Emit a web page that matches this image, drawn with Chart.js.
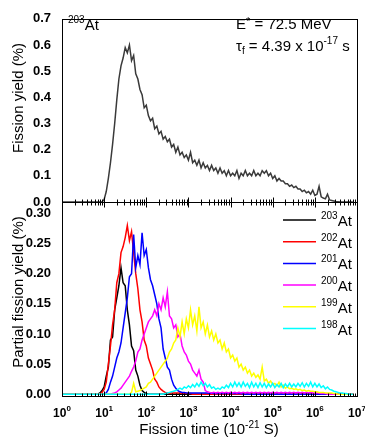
<!DOCTYPE html>
<html>
<head>
<meta charset="utf-8">
<script src="https://cdn.jsdelivr.net/npm/chart.js@4.4.1/dist/chart.umd.min.js"></script>
<style>
  html, body { margin: 0; padding: 0; background: #fff; }
  #wrap { position: relative; width: 365px; height: 444px; }
  #wrap canvas { position: absolute; left: 0; top: 0; }
</style>
</head>
<body>
<div id="wrap">
  <canvas id="topChart" width="365" height="444"></canvas>
  <canvas id="bottomChart" width="365" height="444"></canvas>
</div>
<script>
// log10 of fission time, time in units of 1e-21 s
const logTime = [0,
  0.80,0.85,0.90,0.95,1.00,1.05,1.10,1.15,1.20,1.25,1.30,1.35,1.40,1.45,1.50,1.55,1.60,1.65,1.70,1.75,
  1.80,1.85,1.90,1.95,2.00,2.05,2.10,2.15,2.20,2.25,2.30,2.35,2.40,2.45,2.50,2.55,2.60,2.65,2.70,2.75,
  2.80,2.85,2.90,2.95,3.00,3.05,3.10,3.15,3.20,3.25,3.30,3.35,3.40,3.45,3.50,3.55,3.60,3.65,3.70,3.75,
  3.80,3.85,3.90,3.95,4.00,4.05,4.10,4.15,4.20,4.25,4.30,4.35,4.40,4.45,4.50,4.55,4.60,4.65,4.70,4.75,
  4.80,4.85,4.90,4.95,5.00,5.05,5.10,5.15,5.20,5.25,5.30,5.35,5.40,5.45,5.50,5.55,5.60,5.65,5.70,5.75,
  5.80,5.85,5.90,5.95,6.00,6.05,6.10,6.15,6.20,6.25,6.30,6.35,6.40,6.45,6.50,6.55,6.60,6.65,6.70,6.75,
  6.80,6.85,6.90];

// total fission yield (%) of 203At
const totalYield = [0,
  0,0,0,0,0.01,0.04,0.09,0.15,0.22,0.30,0.39,0.47,0.52,0.55,0.59,0.57,0.60,0.54,0.56,0.49,
  0.47,0.43,0.41,0.36,0.37,0.33,0.31,0.32,0.28,0.29,0.26,0.27,0.24,0.25,0.23,0.24,0.21,0.22,0.19,0.21,
  0.18,0.19,0.17,0.18,0.16,0.19,0.15,0.16,0.14,0.16,0.13,0.15,0.13,0.14,0.12,0.14,0.12,0.13,0.11,0.13,
  0.11,0.12,0.10,0.12,0.10,0.11,0.10,0.12,0.09,0.11,0.10,0.12,0.10,0.11,0.10,0.12,0.10,0.11,0.10,0.12,
  0.11,0.12,0.10,0.11,0.09,0.10,0.08,0.09,0.08,0.08,0.07,0.07,0.06,0.065,0.055,0.06,0.05,0.05,0.04,0.045,
  0.035,0.04,0.03,0.045,0.025,0.03,0.06,0.02,0.015,0.012,0.03,0.008,0.006,0.004,0.002,0.001,0,0,0,0,
  0,0,0];

// partial fission yields (%)
const at203 = [0,
  0,0,0.002,0.006,0.012,0.03,0.045,0.09,0.095,0.14,0.16,0.18,0.21,0.185,0.18,0.14,0.115,0.08,0.072,0.04,
  0.03,0.015,0.006,0.003,0.001,0,0,0,0,0,0,0,0,0,0,0,0,0,0,0,
  0,0,0,0,0,0,0,0,0,0,0,0,0,0,0,0,0,0,0,0,
  0,0,0,0,0,0,0,0,0,0,0,0,0,0,0,0,0,0,0,0,
  0,0,0,0,0,0,0,0,0,0,0,0,0,0,0,0,0,0,0,0,
  0,0,0,0,0,0,0,0,0,0,0,0,0,0,0,0,0,0,0,0,
  0,0,0];
const at202 = [0,
  0,0,0,0.003,0.008,0.02,0.05,0.08,0.115,0.14,0.185,0.20,0.235,0.245,0.26,0.28,0.255,0.27,0.235,0.20,
  0.175,0.14,0.12,0.09,0.08,0.06,0.05,0.04,0.025,0.02,0.012,0.008,0.005,0.003,0.002,0.002,0.002,0.002,0.002,0.002,
  0.002,0.001,0.002,0.001,0.001,0.001,0,0,0,0,0,0,0,0,0,0,0,0,0,0,
  0,0,0,0,0,0,0,0,0,0,0,0,0,0,0,0,0,0,0,0,
  0,0,0,0,0,0,0,0,0,0,0,0,0,0,0,0,0,0,0,0,
  0,0,0,0,0,0,0,0,0,0,0,0,0,0,0,0,0,0,0,0,
  0,0,0];
const at201 = [0,
  0,0,0,0,0,0.002,0.008,0.02,0.03,0.045,0.06,0.07,0.085,0.11,0.135,0.16,0.195,0.20,0.265,0.21,
  0.23,0.215,0.268,0.23,0.24,0.21,0.19,0.18,0.165,0.15,0.125,0.11,0.075,0.06,0.045,0.04,0.025,0.015,0.01,0.006,
  0.004,0.003,0.003,0.002,0.002,0.002,0.002,0.002,0.002,0.002,0.002,0.002,0.002,0.002,0.001,0.002,0.001,0.001,0.001,0.001,
  0.001,0.001,0.001,0.001,0.001,0.001,0.001,0.001,0.001,0.001,0,0,0,0,0,0,0,0,0,0,
  0,0,0,0,0,0,0,0,0,0,0,0,0,0,0,0,0,0,0,0,
  0,0,0,0,0,0,0,0,0,0,0,0,0,0,0,0,0,0,0,0,
  0,0,0];
const at200 = [0,
  0,0,0,0,0,0,0,0,0.001,0.002,0.004,0.007,0.01,0.015,0.02,0.025,0.03,0.038,0.045,0.055,
  0.07,0.075,0.09,0.10,0.11,0.12,0.125,0.13,0.14,0.13,0.15,0.14,0.16,0.145,0.17,0.13,0.125,0.11,0.115,0.095,
  0.10,0.08,0.07,0.065,0.055,0.05,0.04,0.035,0.03,0.04,0.025,0.02,0.006,0.004,0.003,0.002,0.003,0.002,0.003,0.002,
  0.003,0.002,0.003,0.002,0.003,0.002,0.003,0.002,0.003,0.002,0.003,0.002,0.003,0.002,0.003,0.002,0.003,0.002,0.003,0.002,
  0.003,0.002,0.003,0.002,0.003,0.002,0.003,0.002,0.003,0.002,0.003,0.002,0.003,0.002,0.003,0.002,0.003,0.002,0.003,0.002,
  0.003,0.002,0.003,0.002,0.002,0.002,0.002,0.001,0.001,0.001,0,0,0,0,0,0,0,0,0,0,
  0,0,0];
const at199 = [0,
  0,0,0,0,0,0,0,0,0,0,0,0,0,0,0,0,0,0.003,0.018,0.004,
  0.005,0.006,0.008,0.01,0.012,0.018,0.02,0.025,0.03,0.035,0.04,0.045,0.05,0.055,0.06,0.07,0.075,0.085,0.09,0.11,
  0.095,0.12,0.10,0.125,0.11,0.14,0.115,0.13,0.105,0.145,0.11,0.12,0.10,0.115,0.095,0.105,0.09,0.10,0.085,0.09,
  0.075,0.085,0.07,0.075,0.06,0.065,0.055,0.06,0.045,0.05,0.04,0.045,0.035,0.04,0.03,0.035,0.028,0.032,0.025,0.045,
  0.022,0.025,0.018,0.022,0.016,0.018,0.014,0.02,0.012,0.015,0.01,0.012,0.009,0.01,0.008,0.009,0.007,0.008,0.006,0.007,
  0.005,0.006,0.005,0.005,0.004,0.004,0.003,0.003,0.003,0.002,0.002,0.002,0.002,0.001,0.001,0,0,0,0,0,
  0,0,0];
const at198 = [0,
  0,0,0,0,0,0,0,0,0,0,0,0,0,0,0,0,0,0,0,0,
  0,0,0,0,0,0,0,0,0,0,0,0,0,0.001,0.002,0.003,0.004,0.005,0.006,0.008,
  0.01,0.008,0.012,0.01,0.014,0.011,0.016,0.012,0.018,0.013,0.02,0.014,0.018,0.012,0.016,0.01,0.012,0.008,0.01,0.008,
  0.012,0.01,0.015,0.011,0.018,0.012,0.02,0.013,0.019,0.012,0.02,0.013,0.018,0.011,0.02,0.012,0.018,0.011,0.019,0.012,
  0.018,0.011,0.017,0.012,0.018,0.011,0.016,0.012,0.018,0.011,0.017,0.012,0.018,0.012,0.017,0.012,0.018,0.013,0.019,0.012,
  0.018,0.013,0.02,0.012,0.018,0.012,0.017,0.011,0.014,0.009,0.012,0.008,0.007,0.005,0.004,0.003,0.002,0.002,0.001,0.001,
  0,0,0];

const isotopes = ['203', '202', '201', '200', '199', '198'];
const partial = [at203, at202, at201, at200, at199, at198];
const colors = ['#000000', '#ff0000', '#0000ff', '#ff00ff', '#ffff00', '#00ffff'];

const xDecades = [0, 1, 2, 3, 4, 5, 6, 7];
const yTicksTop = [0, 0.1, 0.2, 0.3, 0.4, 0.5, 0.6, 0.7];
const yTicksBottom = [0, 0.05, 0.10, 0.15, 0.20, 0.25, 0.30];

const FAM = '"Liberation Sans", Arial, sans-serif';
const reg = s => s + 'px ' + FAM;
const bold = s => 'bold ' + s + 'px ' + FAM;

function points(ys) {
  return logTime.map((e, i) => ({ x: Math.pow(10, e), y: ys[i] }));
}

function rich(ctx, x, y, parts, align) {
  let w = 0;
  parts.forEach(p => { ctx.font = p.font; w += ctx.measureText(p.t).width; });
  let cx = align === 'center' ? x - w / 2 : x;
  ctx.textAlign = 'left';
  ctx.textBaseline = 'alphabetic';
  parts.forEach(p => {
    ctx.font = p.font;
    ctx.fillText(p.t, cx, y + (p.dy || 0));
    cx += ctx.measureText(p.t).width;
  });
}

function xTicks(ctx, xs, y, dir) {
  ctx.beginPath();
  for (let k = 0; k < 7; k++) {
    for (let m = 1; m <= 9; m++) {
      const px = Math.round(xs.getPixelForValue(m * Math.pow(10, k))) + 0.5;
      const len = m === 1 ? 5 : 3;
      ctx.moveTo(px, y);
      ctx.lineTo(px, y + dir * len);
    }
  }
  const pe = Math.round(xs.getPixelForValue(1e7)) + 0.5;
  ctx.moveTo(pe, y);
  ctx.lineTo(pe, y + dir * 5);
  ctx.stroke();
}

function frame(ctx, a) {
  ctx.strokeStyle = '#000';
  ctx.lineWidth = 1;
  ctx.strokeRect(Math.round(a.left) + 0.5, Math.round(a.top) + 0.5,
    Math.round(a.right - a.left), Math.round(a.bottom - a.top));
}

function vTitle(ctx, text, x, y) {
  ctx.save();
  ctx.translate(x, y);
  ctx.rotate(-Math.PI / 2);
  ctx.font = reg(15);
  ctx.textAlign = 'center';
  ctx.textBaseline = 'middle';
  ctx.fillStyle = '#000';
  ctx.fillText(text, 0, 0);
  ctx.restore();
}

const topDeco = {
  id: 'topDeco',
  afterDraw(chart) {
    const ctx = chart.ctx, a = chart.chartArea, xs = chart.scales.x;
    ctx.save();
    frame(ctx, a);
    xTicks(ctx, xs, Math.round(a.bottom) + 0.5, -1);
    ctx.fillStyle = '#000';
    vTitle(ctx, 'Fission yield (%)', 19, 98);
    rich(ctx, 68, 30, [{ t: '203', font: reg(10), dy: -7 }, { t: 'At', font: reg(15) }]);
    rich(ctx, 236, 29, [{ t: 'E', font: reg(15) }, { t: '*', font: reg(11), dy: -4 }, { t: ' = 72.5 MeV', font: reg(15) }]);
    rich(ctx, 236, 51, [{ t: 'τ', font: reg(15) }, { t: 'f', font: reg(10), dy: 3 },
      { t: ' = 4.39 x 10', font: reg(15) }, { t: '-17', font: reg(10), dy: -7 }, { t: ' s', font: reg(15) }]);
    ctx.restore();
  }
};

const bottomDeco = {
  id: 'bottomDeco',
  afterDraw(chart) {
    const ctx = chart.ctx, a = chart.chartArea, xs = chart.scales.x;
    ctx.save();
    frame(ctx, a);
    xTicks(ctx, xs, Math.round(a.top) + 0.5, 1);
    xTicks(ctx, xs, Math.round(a.bottom) + 0.5, -1);
    ctx.fillStyle = '#000';
    xDecades.forEach(d => {
      const px = xs.getPixelForValue(Math.pow(10, d));
      rich(ctx, px, 417, [{ t: '10', font: bold(12) }, { t: String(d), font: bold(8), dy: -6 }], 'center');
    });
    rich(ctx, 209, 434, [{ t: 'Fission time (10', font: reg(15) }, { t: '-21', font: reg(10), dy: -6 }, { t: ' S)', font: reg(15) }], 'center');
    vTitle(ctx, 'Partial fission yield (%)', 19, 292);
    isotopes.forEach((iso, i) => {
      const y = 220 + i * 21.7;
      ctx.strokeStyle = colors[i];
      ctx.lineWidth = 1.5;
      ctx.beginPath();
      ctx.moveTo(283, y);
      ctx.lineTo(316, y);
      ctx.stroke();
      ctx.fillStyle = '#000';
      rich(ctx, 321, y + 6, [{ t: iso, font: reg(10), dy: -7 }, { t: 'At', font: reg(15) }]);
    });
    ctx.restore();
  }
};

function yAxis(min, max, ticks, digits) {
  return {
    min: min, max: max,
    grid: { display: false, drawTicks: false },
    border: { display: false },
    afterFit: s => { s.width = 62; },
    afterBuildTicks: s => { s.ticks = ticks.map(v => ({ value: v })); },
    ticks: {
      padding: 11,
      color: '#000',
      font: { family: FAM, size: 13, weight: 'bold' },
      callback: v => Number(v).toFixed(digits)
    }
  };
}

const xAxis = { type: 'logarithmic', min: 1, max: 1e7, display: false };

Chart.defaults.animation = false;

new Chart(document.getElementById('topChart'), {
  type: 'line',
  data: {
    datasets: [{
      data: points(totalYield),
      borderColor: '#3a3a3a',
      borderWidth: 1.5,
      pointRadius: 0
    }]
  },
  options: {
    responsive: false,
    devicePixelRatio: 1,
    layout: { padding: { left: 0, top: 10, right: 8, bottom: 242 } },
    plugins: { legend: { display: false }, tooltip: { enabled: false } },
    scales: { x: xAxis, y: yAxis(0, 0.7, yTicksTop, 1) }
  },
  plugins: [topDeco]
});

new Chart(document.getElementById('bottomChart'), {
  type: 'line',
  data: {
    datasets: partial.map((ys, i) => ({
      label: isotopes[i] + 'At',
      data: points(ys),
      borderColor: colors[i],
      borderWidth: 1.5,
      pointRadius: 0,
      order: partial.length - 1 - i
    }))
  },
  options: {
    responsive: false,
    devicePixelRatio: 1,
    layout: { padding: { left: 0, top: 202, right: 8, bottom: 48 } },
    plugins: { legend: { display: false }, tooltip: { enabled: false } },
    scales: { x: xAxis, y: yAxis(-0.003, 0.319, yTicksBottom, 2) }
  },
  plugins: [bottomDeco]
});
</script>
</body>
</html>
